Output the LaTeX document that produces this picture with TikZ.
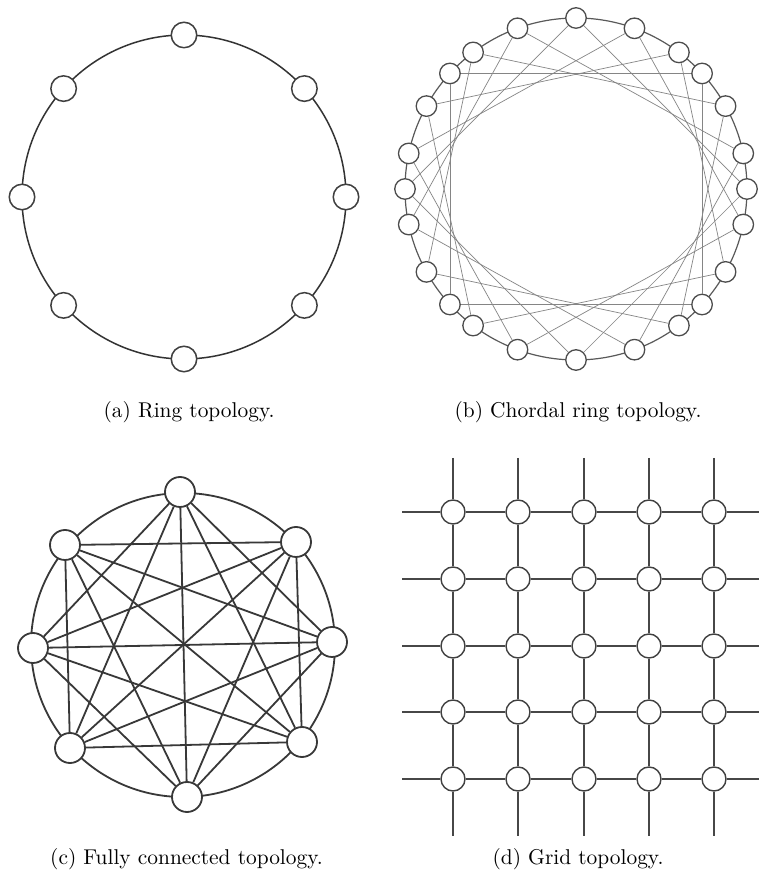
\documentclass[tikz,border=0pt]{standalone}
\usepackage{tikz}
\usetikzlibrary{positioning, calc}

\begin{document}
\begin{tikzpicture}[x=1pt, y=1pt]
% Define styles
\tikzstyle{ringnode} = [circle, draw=black!75, line width=1.5pt, fill=white, minimum size=25.5pt, inner sep=0pt]
\tikzstyle{ringline} = [draw=black!80, line width=1.5pt]
\tikzstyle{chordnode} = [circle, draw=black!70, line width=1.3pt, fill=white, minimum size=20.5pt, inner sep=0pt]
\tikzstyle{chordring} = [draw=black!65, line width=1.2pt]
\tikzstyle{chordline} = [draw=black!48, line width=0.7pt]
\tikzstyle{fullnode} = [circle, draw=black!78, line width=1.8pt, fill=white, minimum size=30pt, inner sep=0pt]
\tikzstyle{fullline} = [draw=black!78, line width=1.8pt]
\tikzstyle{gridnode} = [circle, draw=black!75, line width=1.4pt, fill=white, minimum size=24pt, inner sep=0pt]
\tikzstyle{gridline} = [draw=black!72, line width=1.6pt]
\tikzstyle{caption} = [anchor=base, inner sep=0pt, font=\fontsize{10}{12}\selectfont, scale=2.14, transform shape]

\fill [white] (0,0) rectangle (759,874);

% (a) Ring topology
\coordinate (ringc) at (184,677);
\draw [ringline] (ringc) circle [radius=162];
\foreach \i/\a in {0/90, 1/42, 2/0, 3/-42, 4/-90, 5/-138, 6/180, 7/138}
  \node (r\i) [ringnode] at ($(ringc)+(\a:162)$) {};

% (b) Chordal ring topology
\coordinate (chordc) at (576,685);
\draw [chordring] (chordc) circle [radius=171];
\foreach \i/\a in {0/90, 1/70, 2/53, 3/42.5, 4/29, 5/12, 6/0, 7/-12, 8/-29, 9/-42.5, 10/-53, 11/-70,
                   12/-90, 13/-110, 14/-127, 15/-137.5, 16/-151, 17/-168, 18/180, 19/168, 20/151, 21/137.5, 22/127, 23/110}
  \node (c\i) [chordnode] at ($(chordc)+(\a:171)$) {};
\foreach \i in {0,...,23} {
  \pgfmathtruncatemacro{\chordi}{mod(\i+6,24)}
  \draw [chordline] (c\i) -- (c\chordi);
}

% (c) Fully connected topology
\coordinate (fullc) at (183,229);
\draw [fullline] (fullc) circle [radius=152];
\foreach \i/\x/\y in {0/180/382, 1/296/332, 2/332/232, 3/302/132, 4/187/77, 5/70/126, 6/33/226, 7/65/329}
  \node (f\i) [fullnode] at (\x,\y) {};
\foreach \i in {0,...,5} {
  \pgfmathtruncatemacro{\firstj}{\i+2}
  \pgfmathtruncatemacro{\lastj}{\i==0 ? 6 : 7}
  \foreach \j in {\firstj,...,\lastj}
    \draw [fullline] (f\i) -- (f\j);
}

% (d) Grid topology
\foreach \col/\x in {0/453, 1/518, 2/584, 3/649, 4/714}
  \foreach \row/\y in {0/362, 1/295, 2/228, 3/162, 4/95}
    \node (g\col-\row) [gridnode] at (\x,\y) {};
\foreach \k/\x/\y in {0/453/362, 1/518/295, 2/584/228, 3/649/162, 4/714/95} {
  \coordinate (gl\k) at (402,\y);
  \coordinate (gr\k) at (759,\y);
  \coordinate (gt\k) at (\x,416);
  \coordinate (gb\k) at (\x,38);
  \draw [gridline] (gl\k) -- (g0-\k);
  \draw [gridline] (g4-\k) -- (gr\k);
  \draw [gridline] (gt\k) -- (g\k-0);
  \draw [gridline] (g\k-4) -- (gb\k);
}
\foreach \a/\b in {0/1, 1/2, 2/3, 3/4}
  \foreach \k in {0,...,4} {
    \draw [gridline] (g\a-\k) -- (g\b-\k);
    \draw [gridline] (g\k-\a) -- (g\k-\b);
  }

% Captions
\node (capa) [caption] at (189,456) {(a) Ring topology.};
\node (capb) [caption] at (578,456) {(b) Chordal ring topology.};
\node (capc) [caption] at (186.5,10) {(c) Fully connected topology.};
\node (capd) [caption] at (578,10) {(d) Grid topology.};

\useasboundingbox (0,0) rectangle (759,874);
\end{tikzpicture}
\end{document}
